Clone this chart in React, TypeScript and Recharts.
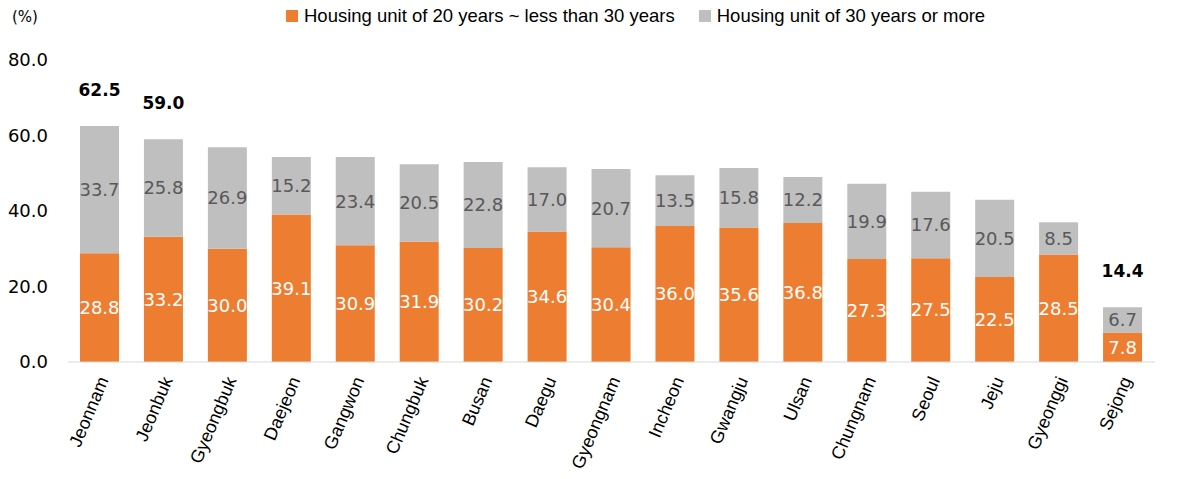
import React from 'react';
import { BarChart, Bar, XAxis, YAxis, Legend, LabelList } from 'recharts';

const regions = ['Jeonnam', 'Jeonbuk', 'Gyeongbuk', 'Daejeon', 'Gangwon', 'Chungbuk', 'Busan', 'Daegu', 'Gyeongnam', 'Incheon', 'Gwangju', 'Ulsan', 'Chungnam', 'Seoul', 'Jeju', 'Gyeonggi', 'Sejong'];
const years20to30 = [28.8, 33.2, 30.0, 39.1, 30.9, 31.9, 30.2, 34.6, 30.4, 36.0, 35.6, 36.8, 27.3, 27.5, 22.5, 28.5, 7.8];
const years30plus = [33.7, 25.8, 26.9, 15.2, 23.4, 20.5, 22.8, 17.0, 20.7, 13.5, 15.8, 12.2, 19.9, 17.6, 20.5, 8.5, 6.7];
const totals = [62.5, 59.0, null, null, null, null, null, null, null, null, null, null, null, null, null, null, 14.4];
const yTicks = [0, 20, 40, 60, 80];

const ORANGE = '#ED7D31';
const GREY = '#BFBFBF';
const NUM_FONT = '"DejaVu Sans", Verdana, sans-serif';
const TXT_FONT = '"Liberation Sans", Arial, sans-serif';

const data = regions.map((name, i) => ({
  name,
  a: years20to30[i],
  b: years30plus[i],
  total: totals[i],
}));

const AngledTick = (props: any) => {
  const { x, y, payload } = props;
  const ax = x + 9;
  const ay = y + 10;
  return (
    <text
      x={ax}
      y={ay}
      transform={`rotate(-67, ${ax}, ${ay})`}
      textAnchor="end"
      fontFamily={TXT_FONT}
      fontSize={18}
      fill="#000"
    >
      {payload.value}
    </text>
  );
};

const TotalLabel = (props: any) => {
  const { x, y, width, index } = props;
  const t = totals[index];
  if (t == null) return null;
  return (
    <text x={x + width / 2} y={y - 30} textAnchor="middle" fontFamily={NUM_FONT} fontWeight="bold" fontSize={17} fill="#000">
      {t.toFixed(1)}
    </text>
  );
};

const LegendBox = () => (
  <div style={{ position: 'absolute', left: 286, top: 5, display: 'flex', alignItems: 'center', fontFamily: TXT_FONT, fontSize: 18.5, color: '#000', whiteSpace: 'nowrap' }}>
    <span style={{ width: 12, height: 12, background: ORANGE, display: 'inline-block', marginRight: 6 }} />
    <span style={{ marginRight: 24 }}>Housing unit of 20 years ~ less than 30 years</span>
    <span style={{ width: 12, height: 12, background: GREY, display: 'inline-block', marginRight: 6 }} />
    <span>Housing unit of 30 years or more</span>
  </div>
);

export default function App() {
  return (
    <div style={{ position: 'absolute', left: 0, top: 0, width: 1198, height: 479, background: '#fff' }}>
      <div style={{ position: 'absolute', left: 12, top: 8, fontFamily: NUM_FONT, fontSize: 15, color: '#000' }}>(%)</div>
      <BarChart width={1198} height={479} data={data} margin={{ top: 60, right: 43, left: 0, bottom: 0 }} barSize={39}>
        <XAxis
          dataKey="name"
          interval={0}
          tick={<AngledTick />}
          tickLine={false}
          axisLine={{ stroke: '#D9D9D9' }}
          height={117}
        />
        <YAxis
          domain={[0, 80]}
          ticks={yTicks}
          tickFormatter={(v: number) => v.toFixed(1)}
          tick={{ fontFamily: NUM_FONT, fontSize: 18, fill: '#000' }}
          tickLine={false}
          axisLine={false}
          tickMargin={14}
          width={68}
        />
        <Legend verticalAlign="top" content={<LegendBox />} wrapperStyle={{ top: 0, left: 0 }} />
        <Bar dataKey="a" stackId="s" fill={ORANGE} isAnimationActive={false}>
          <LabelList dataKey="a" position="center" formatter={(v: any) => Number(v).toFixed(1)} fill="#fff" fontFamily={NUM_FONT} fontSize={18} />
        </Bar>
        <Bar dataKey="b" stackId="s" fill={GREY} isAnimationActive={false}>
          <LabelList dataKey="b" position="center" formatter={(v: any) => Number(v).toFixed(1)} fill="#595959" fontFamily={NUM_FONT} fontSize={18} />
          <LabelList dataKey="total" content={<TotalLabel />} />
        </Bar>
      </BarChart>
    </div>
  );
}
